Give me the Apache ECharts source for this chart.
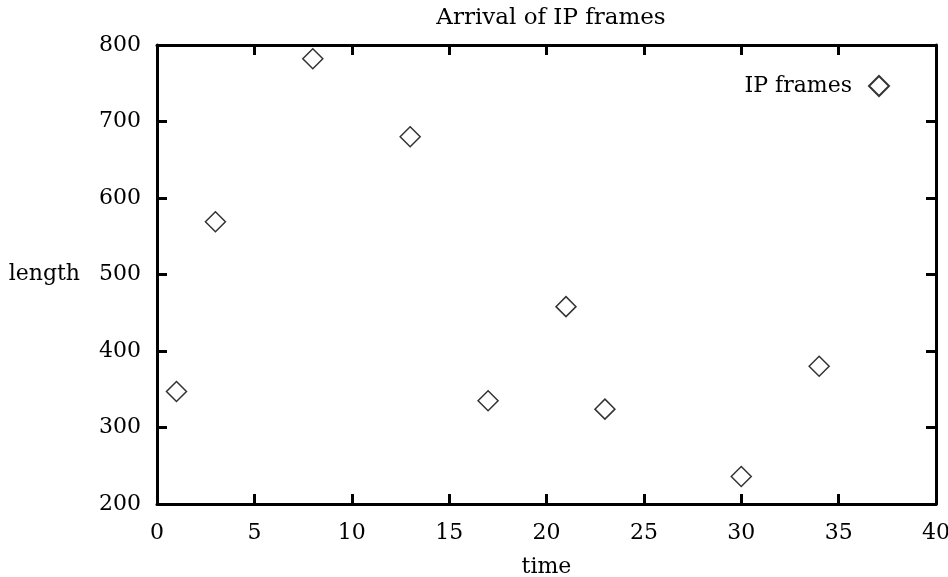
<!DOCTYPE html>
<html>
<head>
<meta charset="utf-8">
<script src="https://cdn.jsdelivr.net/npm/echarts@6/dist/echarts.min.js"></script>
<style>
  html, body { margin: 0; padding: 0; background: #fff; }
  #chart { width: 948px; height: 577px; }
</style>
</head>
<body>
<div id="chart"></div>
<script>
  // IP frame arrivals
  const times = [1, 3, 8, 13, 17, 21, 23, 30, 34];
  const lengths = [347, 569, 782, 680, 335, 458, 324, 236, 380];
  const xTicks = [0, 5, 10, 15, 20, 25, 30, 35, 40];
  const yTicks = [200, 300, 400, 500, 600, 700, 800];

  const font = 'DejaVu Serif';
  const points = times.map((t, i) => [t, lengths[i]]);

  const chart = echarts.init(document.getElementById('chart'));

  // box frame: every side gets a thick line with inward ticks
  const frameAxis = {
    axisLine: { show: true, onZero: false, lineStyle: { color: '#000', width: 3 } },
    axisTick: { show: true, inside: true, length: 10, lineStyle: { color: '#000', width: 3 } },
    splitLine: { show: false }
  };

  chart.setOption({
    animation: false,
    title: {
      text: 'Arrival of IP frames',
      left: 546, top: 2, textAlign: 'center',
      textStyle: { fontFamily: font, fontSize: 23, fontWeight: 'normal', color: '#000' }
    },
    legend: {
      right: 53, top: 70,
      align: 'right',
      itemWidth: 20, itemHeight: 20, itemGap: 0,
      textStyle: { fontFamily: font, fontSize: 22, color: '#000', padding: [0, 12, 0, 0] },
      data: [{ name: 'IP frames', icon: 'diamond' }]
    },
    grid: { left: 157, right: 12, top: 45, bottom: 73, containLabel: false, outerBoundsMode: 'none' },
    xAxis: [
      Object.assign({
        type: 'value', min: 0, max: 40, interval: 5, position: 'bottom',
        name: 'time', nameLocation: 'middle', nameGap: 52,
        nameTextStyle: { fontFamily: font, fontSize: 22, color: '#000' },
        axisLabel: { fontFamily: font, fontSize: 22, color: '#000', margin: 18,
          formatter: v => xTicks.includes(v) ? String(v) : '' }
      }, frameAxis),
      Object.assign({
        type: 'value', min: 0, max: 40, interval: 5, position: 'top',
        axisLabel: { show: false }
      }, frameAxis)
    ],
    yAxis: [
      Object.assign({
        type: 'value', min: 200, max: 800, interval: 100, position: 'left',
        name: 'length', nameLocation: 'middle', nameGap: 77, nameRotate: 0,
        nameTextStyle: { fontFamily: font, fontSize: 22, color: '#000' },
        axisLabel: { fontFamily: font, fontSize: 22, color: '#000', margin: 16,
          formatter: v => yTicks.includes(v) ? String(v) : '' }
      }, frameAxis),
      Object.assign({
        type: 'value', min: 200, max: 800, interval: 100, position: 'right',
        axisLabel: { show: false }
      }, frameAxis)
    ],
    series: [{
      name: 'IP frames',
      type: 'scatter',
      symbol: 'diamond',
      symbolSize: 20,
      itemStyle: { color: '#fff', borderColor: '#000', borderWidth: 1.5 },
      data: points
    }]
  });
</script>
</body>
</html>
